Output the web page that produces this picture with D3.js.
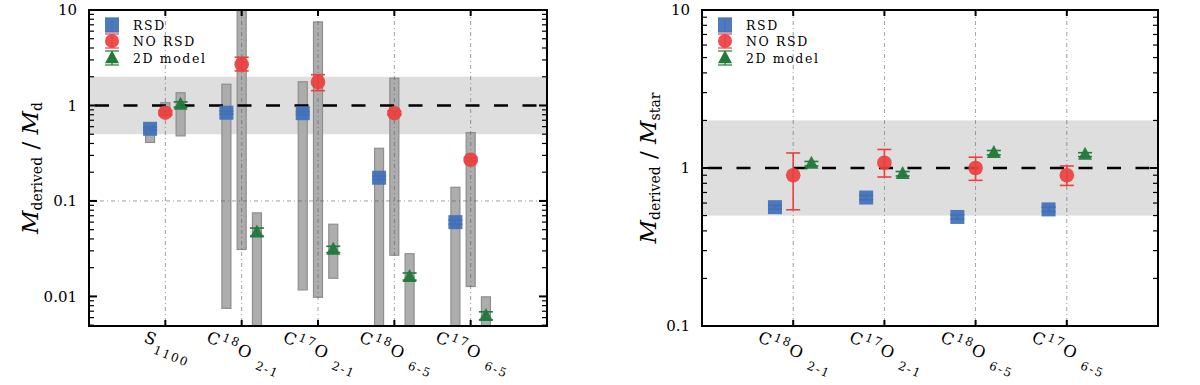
<!DOCTYPE html>
<html>
<head>
<meta charset="utf-8">
<script src="https://cdn.jsdelivr.net/npm/d3@7"></script>
<style>
body { margin: 0; background: #fff; }
text { font-family: "DejaVu Serif", serif; fill: #000; }
</style>
</head>
<body>
<svg id="chart" width="1200" height="385"></svg>
<script>
// ---- data ----
var leftLabels = ["S_{1100}", "C^{18}O _{2-1}", "C^{17}O _{2-1}", "C^{18}O _{6-5}", "C^{17}O _{6-5}"];
var rightLabels = ["C^{18}O _{2-1}", "C^{17}O _{2-1}", "C^{18}O _{6-5}", "C^{17}O _{6-5}"];

// left panel: M_derived / M_d
var rsdLeft = [0.57, 0.84, 0.83, 0.175, 0.06];
var rsdLeftErr = [[0.55, 0.59], [0.81, 0.87], [0.80, 0.86], [0.168, 0.182], [0.057, 0.063]];
var rsdLeftRange = [[0.41, 0.62], [0.0075, 1.67], [0.0117, 1.77], [0.001, 0.356], [0.001, 0.139]];
var noRsdLeft = [0.84, 2.7, 1.76, 0.83, 0.27];
var noRsdLeftErr = [[0.8, 0.88], [2.3, 3.2], [1.43, 2.1], [0.8, 0.87], [0.26, 0.285]];
var noRsdLeftRange = [[0.78, 1.07], [0.031, 30], [0.0098, 7.5], [0.027, 1.93], [0.0127, 0.52]];
var modelLeft = [1.02, 0.047, 0.031, 0.0161, 0.00625];
var modelLeftErr = [[0.96, 1.09], [0.043, 0.052], [0.0288, 0.0335], [0.0148, 0.0176], [0.0057, 0.0069]];
var modelLeftRange = [[0.48, 1.36], [0.001, 0.075], [0.0155, 0.057], [0.001, 0.028], [0.001, 0.0099]];

// right panel: M_derived / M_star
var rsdRight = [0.565, 0.65, 0.49, 0.547];
var rsdRightErr = [[0.55, 0.58], [0.63, 0.67], [0.475, 0.505], [0.53, 0.565]];
var noRsdRight = [0.9, 1.08, 1.0, 0.9];
var noRsdRightErr = [[0.544, 1.245], [0.877, 1.31], [0.835, 1.17], [0.776, 1.03]];
var modelRight = [1.066, 0.92, 1.25, 1.216];
var modelRightErr = [[1.03, 1.1], [0.89, 0.95], [1.21, 1.29], [1.18, 1.25]];

var leftTicks = [0.01, 0.1, 1, 10];
var rightTicks = [0.1, 1, 10];
var legendNames = ["RSD", "NO RSD", "2D model"];

var colors = { rsd: "#3f70b8", norsd: "#ec3f3f", model: "#22793a" };

var svg = d3.select("#chart");

function richText(sel, str, baseSize) {
    // splits "C^{18}O _{2-1}" into tspans
    var re = /([_^])\{([^}]*)\}/g, last = 0, m, shift = 0;
    while ((m = re.exec(str)) !== null) {
        if (m.index > last) {
            sel.append("tspan").attr("dy", -shift).style("font-size", baseSize + "px")
                .text(str.slice(last, m.index));
            shift = 0;
        }
        var s = m[1] == "^" ? -0.42 * baseSize : 0.42 * baseSize;
        sel.append("tspan").attr("dy", s - shift).style("font-size", (baseSize * 0.72) + "px")
            .text(m[2]);
        shift = s;
        last = re.lastIndex;
    }
    if (last < str.length) {
        sel.append("tspan").attr("dy", -shift).style("font-size", baseSize + "px").text(str.slice(last));
    }
}

function tri(cx, cy, w, h) {
    return "M" + cx + "," + (cy - h * 0.6) + "L" + (cx + w / 2) + "," + (cy + h * 0.4) +
        "L" + (cx - w / 2) + "," + (cy + h * 0.4) + "Z";
}

function drawPanel(p) {
    var x = d3.scaleLinear().domain([0, p.labels.length + 1]).range([p.x0, p.x1]);
    var y = d3.scaleLog().domain(p.yDomain).range([p.y1, p.y0]);
    var g = svg.append("g");
    var clipId = "clip" + p.id;
    g.append("clipPath").attr("id", clipId).append("rect")
        .attr("x", p.x0).attr("y", p.y0).attr("width", p.x1 - p.x0).attr("height", p.y1 - p.y0);
    var plot = g.append("g").attr("clip-path", "url(#" + clipId + ")");

    // band 0.5 - 2
    plot.append("rect").attr("x", p.x0).attr("width", p.x1 - p.x0)
        .attr("y", y(2)).attr("height", y(0.5) - y(2)).attr("fill", "#dedede");

    var idx = d3.range(p.labels.length);

    // range bars
    p.ranges.forEach(function (r) {
        plot.selectAll(null).data(idx).enter().append("rect")
            .attr("x", (i) => x(i + 1 + r.off) - p.barW / 2)
            .attr("width", p.barW)
            .attr("y", (i) => y(r.data[i][1]))
            .attr("height", (i) => y(r.data[i][0]) - y(r.data[i][1]))
            .attr("fill", "#a9a9a9").attr("stroke", "#8e8e8e").attr("stroke-width", 1.2)
            .attr("fill-opacity", 0.95);
    });

    // grid
    plot.selectAll(null).data(idx).enter().append("line")
        .attr("x1", (i) => x(i + 1)).attr("x2", (i) => x(i + 1))
        .attr("y1", p.y0).attr("y2", p.y1)
        .attr("stroke", "#555").attr("stroke-width", 0.8).attr("stroke-dasharray", "4,3,1,3")
        .attr("opacity", 0.7);
    plot.selectAll(null).data(p.hGrid).enter().append("line")
        .attr("x1", p.x0).attr("x2", p.x1).attr("y1", (d) => y(d)).attr("y2", (d) => y(d))
        .attr("stroke", "#555").attr("stroke-width", 0.8).attr("stroke-dasharray", "4,3,1,3")
        .attr("opacity", 0.7);

    // dashed line at 1
    plot.append("line").attr("x1", p.x0).attr("x2", p.x1).attr("y1", y(1)).attr("y2", y(1))
        .attr("stroke", "#000").attr("stroke-width", 2.6).attr("stroke-dasharray", "14,14.5")
        .attr("stroke-dashoffset", -6);

    // series
    p.series.forEach(function (s) {
        var sg = plot.append("g");
        sg.selectAll(null).data(idx).enter().append("line")
            .attr("x1", (i) => x(i + 1 + s.off)).attr("x2", (i) => x(i + 1 + s.off))
            .attr("y1", (i) => y(s.err[i][0])).attr("y2", (i) => y(s.err[i][1]))
            .attr("stroke", s.color).attr("stroke-width", 1.6);
        [0, 1].forEach(function (k) {
            sg.selectAll(null).data(idx).enter().append("line")
                .attr("x1", (i) => x(i + 1 + s.off) - 7).attr("x2", (i) => x(i + 1 + s.off) + 7)
                .attr("y1", (i) => y(s.err[i][k])).attr("y2", (i) => y(s.err[i][k]))
                .attr("stroke", s.color).attr("stroke-width", 1.6);
        });
        var pts = sg.selectAll(null).data(idx).enter();
        if (s.shape == "square") {
            pts.append("rect").attr("x", (i) => x(i + 1 + s.off) - 7).attr("y", (i) => y(s.vals[i]) - 7)
                .attr("width", 14).attr("height", 14).attr("fill", s.color).attr("fill-opacity", 0.92);
        } else if (s.shape == "circle") {
            pts.append("circle").attr("cx", (i) => x(i + 1 + s.off)).attr("cy", (i) => y(s.vals[i]))
                .attr("r", 7.3).attr("fill", s.color).attr("fill-opacity", 0.92);
        } else {
            pts.append("path").attr("d", (i) => tri(x(i + 1 + s.off), y(s.vals[i]), 14, 13))
                .attr("fill", s.color).attr("fill-opacity", 0.95);
        }
    });

    // frame
    g.append("rect").attr("x", p.x0).attr("y", p.y0).attr("width", p.x1 - p.x0).attr("height", p.y1 - p.y0)
        .attr("fill", "none").attr("stroke", "#000").attr("stroke-width", 2);

    // y ticks (both sides, inward)
    var minor = [];
    var lo = Math.floor(Math.log10(p.yDomain[0])), hi = Math.ceil(Math.log10(p.yDomain[1]));
    for (var e = lo; e < hi; e++) {
        for (var k = 2; k <= 9; k++) {
            var v = k * Math.pow(10, e);
            if (v > p.yDomain[0] && v < p.yDomain[1]) minor.push(v);
        }
    }
    [p.x0, p.x1].forEach(function (ax) {
        var dir = ax == p.x0 ? 1 : -1;
        g.selectAll(null).data(p.yTicks).enter().append("line")
            .attr("x1", ax).attr("x2", ax + dir * 8).attr("y1", (d) => y(d)).attr("y2", (d) => y(d))
            .attr("stroke", "#000").attr("stroke-width", 2);
        g.selectAll(null).data(minor).enter().append("line")
            .attr("x1", ax).attr("x2", ax + dir * 5).attr("y1", (d) => y(d)).attr("y2", (d) => y(d))
            .attr("stroke", "#000").attr("stroke-width", 1.2);
    });
    g.selectAll(null).data(p.yTicks).enter().append("text")
        .attr("x", p.x0 - 12).attr("y", (d) => y(d)).attr("dy", "0.36em")
        .attr("text-anchor", "end").style("font-size", "15px")
        .text((d) => d3.format("~g")(d));

    // x ticks top and bottom, inward
    [p.y0, p.y1].forEach(function (ay) {
        var dir = ay == p.y0 ? 1 : -1;
        g.selectAll(null).data(idx).enter().append("line")
            .attr("x1", (i) => x(i + 1)).attr("x2", (i) => x(i + 1))
            .attr("y1", ay).attr("y2", ay + dir * 6)
            .attr("stroke", "#000").attr("stroke-width", 2);
    });

    // rotated category labels
    var ang = 22, rad = ang * Math.PI / 180;
    idx.forEach(function (i) {
        var lg = g.append("g");
        var t = lg.append("text").attr("text-anchor", "middle").attr("dy", "0.3em")
            .style("letter-spacing", "1.8px");
        richText(t, p.labels[i], 16.5);
        var w = t.node().getComputedTextLength();
        var yc = p.y1 + 10 + (w * Math.sin(rad) + 12 * Math.cos(rad)) / 2;
        lg.attr("transform", "translate(" + (x(i + 1) + 1) + "," + yc + ") rotate(" + ang + ")");
    });

    // y label
    var yl = g.append("text").attr("text-anchor", "middle")
        .attr("transform", "translate(" + p.labelX + "," + ((p.y0 + p.y1) / 2) + ") rotate(-90)");
    yl.append("tspan").style("font-size", "23px").style("font-style", "italic").text("M");
    yl.append("tspan").attr("dy", 4).style("font-size", "14px").text("derived");
    yl.append("tspan").attr("dy", -4).style("font-size", "23px").text(" / ");
    yl.append("tspan").style("font-size", "23px").style("font-style", "italic").text("M");
    yl.append("tspan").attr("dy", 4).style("font-size", "14px").text(p.sub);

    // legend
    var shapes = ["square", "circle", "triangle"];
    var lc = [colors.rsd, colors.norsd, colors.model];
    legendNames.forEach(function (name, k) {
        var ly = [25, 41, 58][k], lx = p.x0 + 23;
        var lgd = g.append("g");
        lgd.append("line").attr("x1", lx).attr("x2", lx).attr("y1", ly - 7).attr("y2", ly + 7)
            .attr("stroke", lc[k]).attr("stroke-width", 1.2);
        [-7, 7].forEach(function (d) {
            lgd.append("line").attr("x1", lx - 7).attr("x2", lx + 7).attr("y1", ly + d).attr("y2", ly + d)
                .attr("stroke", lc[k]).attr("stroke-width", 1.2);
        });
        if (shapes[k] == "square") {
            lgd.append("rect").attr("x", lx - 7).attr("y", ly - 7).attr("width", 14).attr("height", 14)
                .attr("fill", lc[k]).attr("fill-opacity", 0.92);
        } else if (shapes[k] == "circle") {
            lgd.append("circle").attr("cx", lx).attr("cy", ly).attr("r", 7).attr("fill", lc[k]).attr("fill-opacity", 0.92);
        } else {
            lgd.append("path").attr("d", tri(lx, ly, 14, 13)).attr("fill", lc[k]);
        }
        lgd.append("text").attr("x", p.x0 + 44).attr("y", ly).attr("dy", "0.36em")
            .style("font-size", "12.5px").style("letter-spacing", "1.6px").text(name);
    });
}

drawPanel({
    id: "L", x0: 89, x1: 547, y0: 10, y1: 326, yDomain: [0.0049, 10], yTicks: leftTicks,
    hGrid: [0.1], labels: leftLabels, barW: 9, labelX: 38, sub: "d",
    ranges: [
        { off: -0.2, data: rsdLeftRange },
        { off: 0, data: noRsdLeftRange },
        { off: 0.2, data: modelLeftRange }
    ],
    series: [
        { off: -0.2, vals: rsdLeft, err: rsdLeftErr, color: colors.rsd, shape: "square" },
        { off: 0, vals: noRsdLeft, err: noRsdLeftErr, color: colors.norsd, shape: "circle" },
        { off: 0.2, vals: modelLeft, err: modelLeftErr, color: colors.model, shape: "triangle" }
    ]
});

drawPanel({
    id: "R", x0: 702, x1: 1158, y0: 10, y1: 326, yDomain: [0.1, 10], yTicks: rightTicks,
    hGrid: [], labels: rightLabels, barW: 9, labelX: 656, sub: "star",
    ranges: [],
    series: [
        { off: -0.2, vals: rsdRight, err: rsdRightErr, color: colors.rsd, shape: "square" },
        { off: 0, vals: noRsdRight, err: noRsdRightErr, color: colors.norsd, shape: "circle" },
        { off: 0.2, vals: modelRight, err: modelRightErr, color: colors.model, shape: "triangle" }
    ]
});
</script>
</body>
</html>
